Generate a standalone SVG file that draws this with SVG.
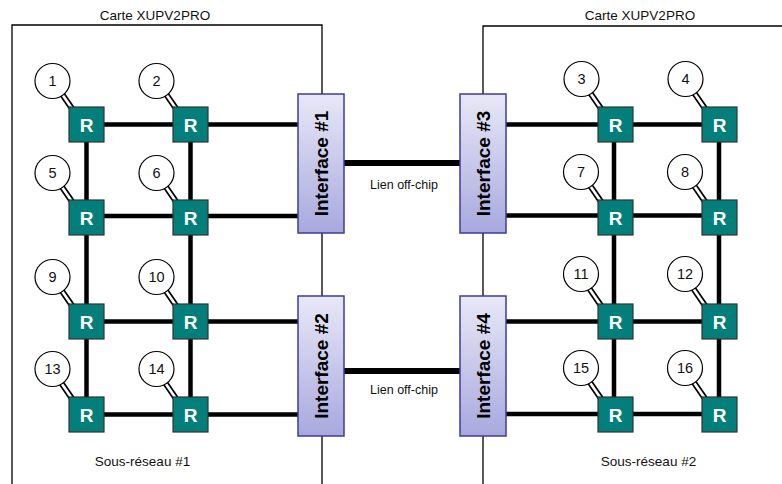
<svg xmlns="http://www.w3.org/2000/svg" width="782" height="484" viewBox="0 0 782 484">
<defs>
<linearGradient id="ifg" x1="0" y1="0" x2="0" y2="1">
<stop offset="0" stop-color="#E8E8F7"/>
<stop offset="1" stop-color="#A8A8DE"/>
</linearGradient>
</defs>
<style>
.board{fill:none;stroke:#000;stroke-width:1.3}
.lbl{font-family:"Liberation Sans",Arial,sans-serif;font-size:13.5px;fill:#111;text-anchor:middle}
.link{stroke:#000;stroke-width:4.5;fill:none}
.off{stroke:#000;stroke-width:6;fill:none}
.pe-o{stroke:#000;stroke-width:6;stroke-linecap:butt}
.pe-i{stroke:#fff;stroke-width:2.6;stroke-linecap:butt}
.pe{fill:#fff;stroke:#000;stroke-width:1.2}
.num{font-family:"Liberation Sans",Arial,sans-serif;font-size:14.5px;fill:#111;text-anchor:middle}
.r{fill:#037F7B;stroke:#333;stroke-width:1.2}
.rt{font-family:"Liberation Sans",Arial,sans-serif;font-size:19px;font-weight:bold;fill:#fff;text-anchor:middle}
.if{fill:url(#ifg);stroke:#3C3C9C;stroke-width:1.5}
.it{font-family:"Liberation Sans",Arial,sans-serif;font-size:19px;font-weight:bold;fill:#000;text-anchor:middle}
</style>
<g id="boards">
<path class="board" d="M12,484 V25 H322 V484"/>
<path class="board" d="M483,484 V26 H782"/>
<text class="lbl" x="155" y="20">Carte XUPV2PRO</text>
<text class="lbl" x="640" y="20">Carte XUPV2PRO</text>
<text class="lbl" x="142.5" y="466">Sous-réseau #1</text>
<text class="lbl" x="648.5" y="466">Sous-réseau #2</text>
</g>
<g id="connectors">
<line class="link" x1="86.5" y1="124.5" x2="298" y2="124.5"/>
<line class="link" x1="86.5" y1="216" x2="298" y2="216"/>
<line class="link" x1="86.5" y1="321.5" x2="298" y2="321.5"/>
<line class="link" x1="86.5" y1="414.5" x2="298" y2="414.5"/>
<line class="link" x1="86.5" y1="124.5" x2="86.5" y2="414.5"/>
<line class="link" x1="190.5" y1="124.5" x2="190.5" y2="414.5"/>
<line class="link" x1="506" y1="124.5" x2="719.5" y2="124.5"/>
<line class="link" x1="506" y1="215.5" x2="719.5" y2="215.5"/>
<line class="link" x1="506" y1="321.5" x2="719.5" y2="321.5"/>
<line class="link" x1="506" y1="414" x2="719.5" y2="414"/>
<line class="link" x1="614" y1="124.5" x2="614" y2="414.5"/>
<line class="link" x1="719" y1="124.5" x2="719" y2="414.5"/>
<line class="off" x1="344" y1="163" x2="460" y2="163"/>
<line class="off" x1="344" y1="371" x2="460" y2="371"/>
<text class="lbl" x="404" y="189" style="font-size:12.5px">Lien off-chip</text>
<text class="lbl" x="404" y="394" style="font-size:12.5px">Lien off-chip</text>
</g>
<g id="interface1"><rect class="if" x="298" y="94" width="46" height="139"/><text class="it" transform="translate(328,163.5) rotate(-90)">Interface #1</text></g>
<g id="interface2"><rect class="if" x="298" y="296" width="46" height="140"/><text class="it" transform="translate(328,366) rotate(-90)">Interface #2</text></g>
<g id="interface3"><rect class="if" x="460" y="94" width="46" height="139"/><text class="it" transform="translate(490,163.5) rotate(-90)">Interface #3</text></g>
<g id="interface4"><rect class="if" x="460" y="296" width="46" height="140"/><text class="it" transform="translate(490,366) rotate(-90)">Interface #4</text></g>
<g id="node1" transform="translate(69,107)"><line class="pe-o" x1="-16" y1="-26" x2="4" y2="3"/><line class="pe-i" x1="-16" y1="-26" x2="4" y2="3"/><circle class="pe" cx="-16.5" cy="-26" r="17.5"/><text class="num" x="-16.5" y="-21">1</text><rect class="r" x="0" y="0" width="35" height="35"/><text class="rt" x="17.5" y="24.5">R</text></g>
<g id="node2" transform="translate(173,107)"><line class="pe-o" x1="-16" y1="-26" x2="4" y2="3"/><line class="pe-i" x1="-16" y1="-26" x2="4" y2="3"/><circle class="pe" cx="-16.5" cy="-26" r="17.5"/><text class="num" x="-16.5" y="-21">2</text><rect class="r" x="0" y="0" width="35" height="35"/><text class="rt" x="17.5" y="24.5">R</text></g>
<g id="node3" transform="translate(598,107)"><line class="pe-o" x1="-16" y1="-26" x2="4" y2="3"/><line class="pe-i" x1="-16" y1="-26" x2="4" y2="3"/><circle class="pe" cx="-16.5" cy="-28" r="17.5"/><text class="num" x="-16.5" y="-23">3</text><rect class="r" x="0" y="0" width="35" height="35"/><text class="rt" x="17.5" y="24.5">R</text></g>
<g id="node4" transform="translate(702,107)"><line class="pe-o" x1="-16" y1="-26" x2="4" y2="3"/><line class="pe-i" x1="-16" y1="-26" x2="4" y2="3"/><circle class="pe" cx="-16.5" cy="-28" r="17.5"/><text class="num" x="-16.5" y="-23">4</text><rect class="r" x="0" y="0" width="35" height="35"/><text class="rt" x="17.5" y="24.5">R</text></g>
<g id="node5" transform="translate(69,200)"><line class="pe-o" x1="-16" y1="-26" x2="4" y2="3"/><line class="pe-i" x1="-16" y1="-26" x2="4" y2="3"/><circle class="pe" cx="-16.5" cy="-27" r="17.5"/><text class="num" x="-16.5" y="-22">5</text><rect class="r" x="0" y="0" width="35" height="35"/><text class="rt" x="17.5" y="24.5">R</text></g>
<g id="node6" transform="translate(173,200)"><line class="pe-o" x1="-16" y1="-26" x2="4" y2="3"/><line class="pe-i" x1="-16" y1="-26" x2="4" y2="3"/><circle class="pe" cx="-16.5" cy="-27" r="17.5"/><text class="num" x="-16.5" y="-22">6</text><rect class="r" x="0" y="0" width="35" height="35"/><text class="rt" x="17.5" y="24.5">R</text></g>
<g id="node7" transform="translate(598,200)"><line class="pe-o" x1="-16" y1="-26" x2="4" y2="3"/><line class="pe-i" x1="-16" y1="-26" x2="4" y2="3"/><circle class="pe" cx="-17" cy="-28" r="17.5"/><text class="num" x="-17" y="-23">7</text><rect class="r" x="0" y="0" width="35" height="35"/><text class="rt" x="17.5" y="24.5">R</text></g>
<g id="node8" transform="translate(702,200)"><line class="pe-o" x1="-16" y1="-26" x2="4" y2="3"/><line class="pe-i" x1="-16" y1="-26" x2="4" y2="3"/><circle class="pe" cx="-17" cy="-28" r="17.5"/><text class="num" x="-17" y="-23">8</text><rect class="r" x="0" y="0" width="35" height="35"/><text class="rt" x="17.5" y="24.5">R</text></g>
<g id="node9" transform="translate(69,304)"><line class="pe-o" x1="-16" y1="-26" x2="4" y2="3"/><line class="pe-i" x1="-16" y1="-26" x2="4" y2="3"/><circle class="pe" cx="-16.5" cy="-27" r="17.5"/><text class="num" x="-16.5" y="-22">9</text><rect class="r" x="0" y="0" width="35" height="35"/><text class="rt" x="17.5" y="24.5">R</text></g>
<g id="node10" transform="translate(173,304)"><line class="pe-o" x1="-16" y1="-26" x2="4" y2="3"/><line class="pe-i" x1="-16" y1="-26" x2="4" y2="3"/><circle class="pe" cx="-16.5" cy="-27" r="17.5"/><text class="num" x="-16.5" y="-22">10</text><rect class="r" x="0" y="0" width="35" height="35"/><text class="rt" x="17.5" y="24.5">R</text></g>
<g id="node11" transform="translate(598,304)"><line class="pe-o" x1="-16" y1="-26" x2="4" y2="3"/><line class="pe-i" x1="-16" y1="-26" x2="4" y2="3"/><circle class="pe" cx="-17" cy="-30" r="17.5"/><text class="num" x="-17" y="-25">11</text><rect class="r" x="0" y="0" width="35" height="35"/><text class="rt" x="17.5" y="24.5">R</text></g>
<g id="node12" transform="translate(702,304)"><line class="pe-o" x1="-16" y1="-26" x2="4" y2="3"/><line class="pe-i" x1="-16" y1="-26" x2="4" y2="3"/><circle class="pe" cx="-17" cy="-30" r="17.5"/><text class="num" x="-17" y="-25">12</text><rect class="r" x="0" y="0" width="35" height="35"/><text class="rt" x="17.5" y="24.5">R</text></g>
<g id="node13" transform="translate(69,397)"><line class="pe-o" x1="-16" y1="-26" x2="4" y2="3"/><line class="pe-i" x1="-16" y1="-26" x2="4" y2="3"/><circle class="pe" cx="-16.5" cy="-28" r="17.5"/><text class="num" x="-16.5" y="-23">13</text><rect class="r" x="0" y="0" width="35" height="35"/><text class="rt" x="17.5" y="24.5">R</text></g>
<g id="node14" transform="translate(173,397)"><line class="pe-o" x1="-16" y1="-26" x2="4" y2="3"/><line class="pe-i" x1="-16" y1="-26" x2="4" y2="3"/><circle class="pe" cx="-16.5" cy="-28" r="17.5"/><text class="num" x="-16.5" y="-23">14</text><rect class="r" x="0" y="0" width="35" height="35"/><text class="rt" x="17.5" y="24.5">R</text></g>
<g id="node15" transform="translate(598,397)"><line class="pe-o" x1="-16" y1="-26" x2="4" y2="3"/><line class="pe-i" x1="-16" y1="-26" x2="4" y2="3"/><circle class="pe" cx="-17" cy="-29" r="17.5"/><text class="num" x="-17" y="-24">15</text><rect class="r" x="0" y="0" width="35" height="35"/><text class="rt" x="17.5" y="24.5">R</text></g>
<g id="node16" transform="translate(702,397)"><line class="pe-o" x1="-16" y1="-26" x2="4" y2="3"/><line class="pe-i" x1="-16" y1="-26" x2="4" y2="3"/><circle class="pe" cx="-17" cy="-29" r="17.5"/><text class="num" x="-17" y="-24">16</text><rect class="r" x="0" y="0" width="35" height="35"/><text class="rt" x="17.5" y="24.5">R</text></g>
</svg>
